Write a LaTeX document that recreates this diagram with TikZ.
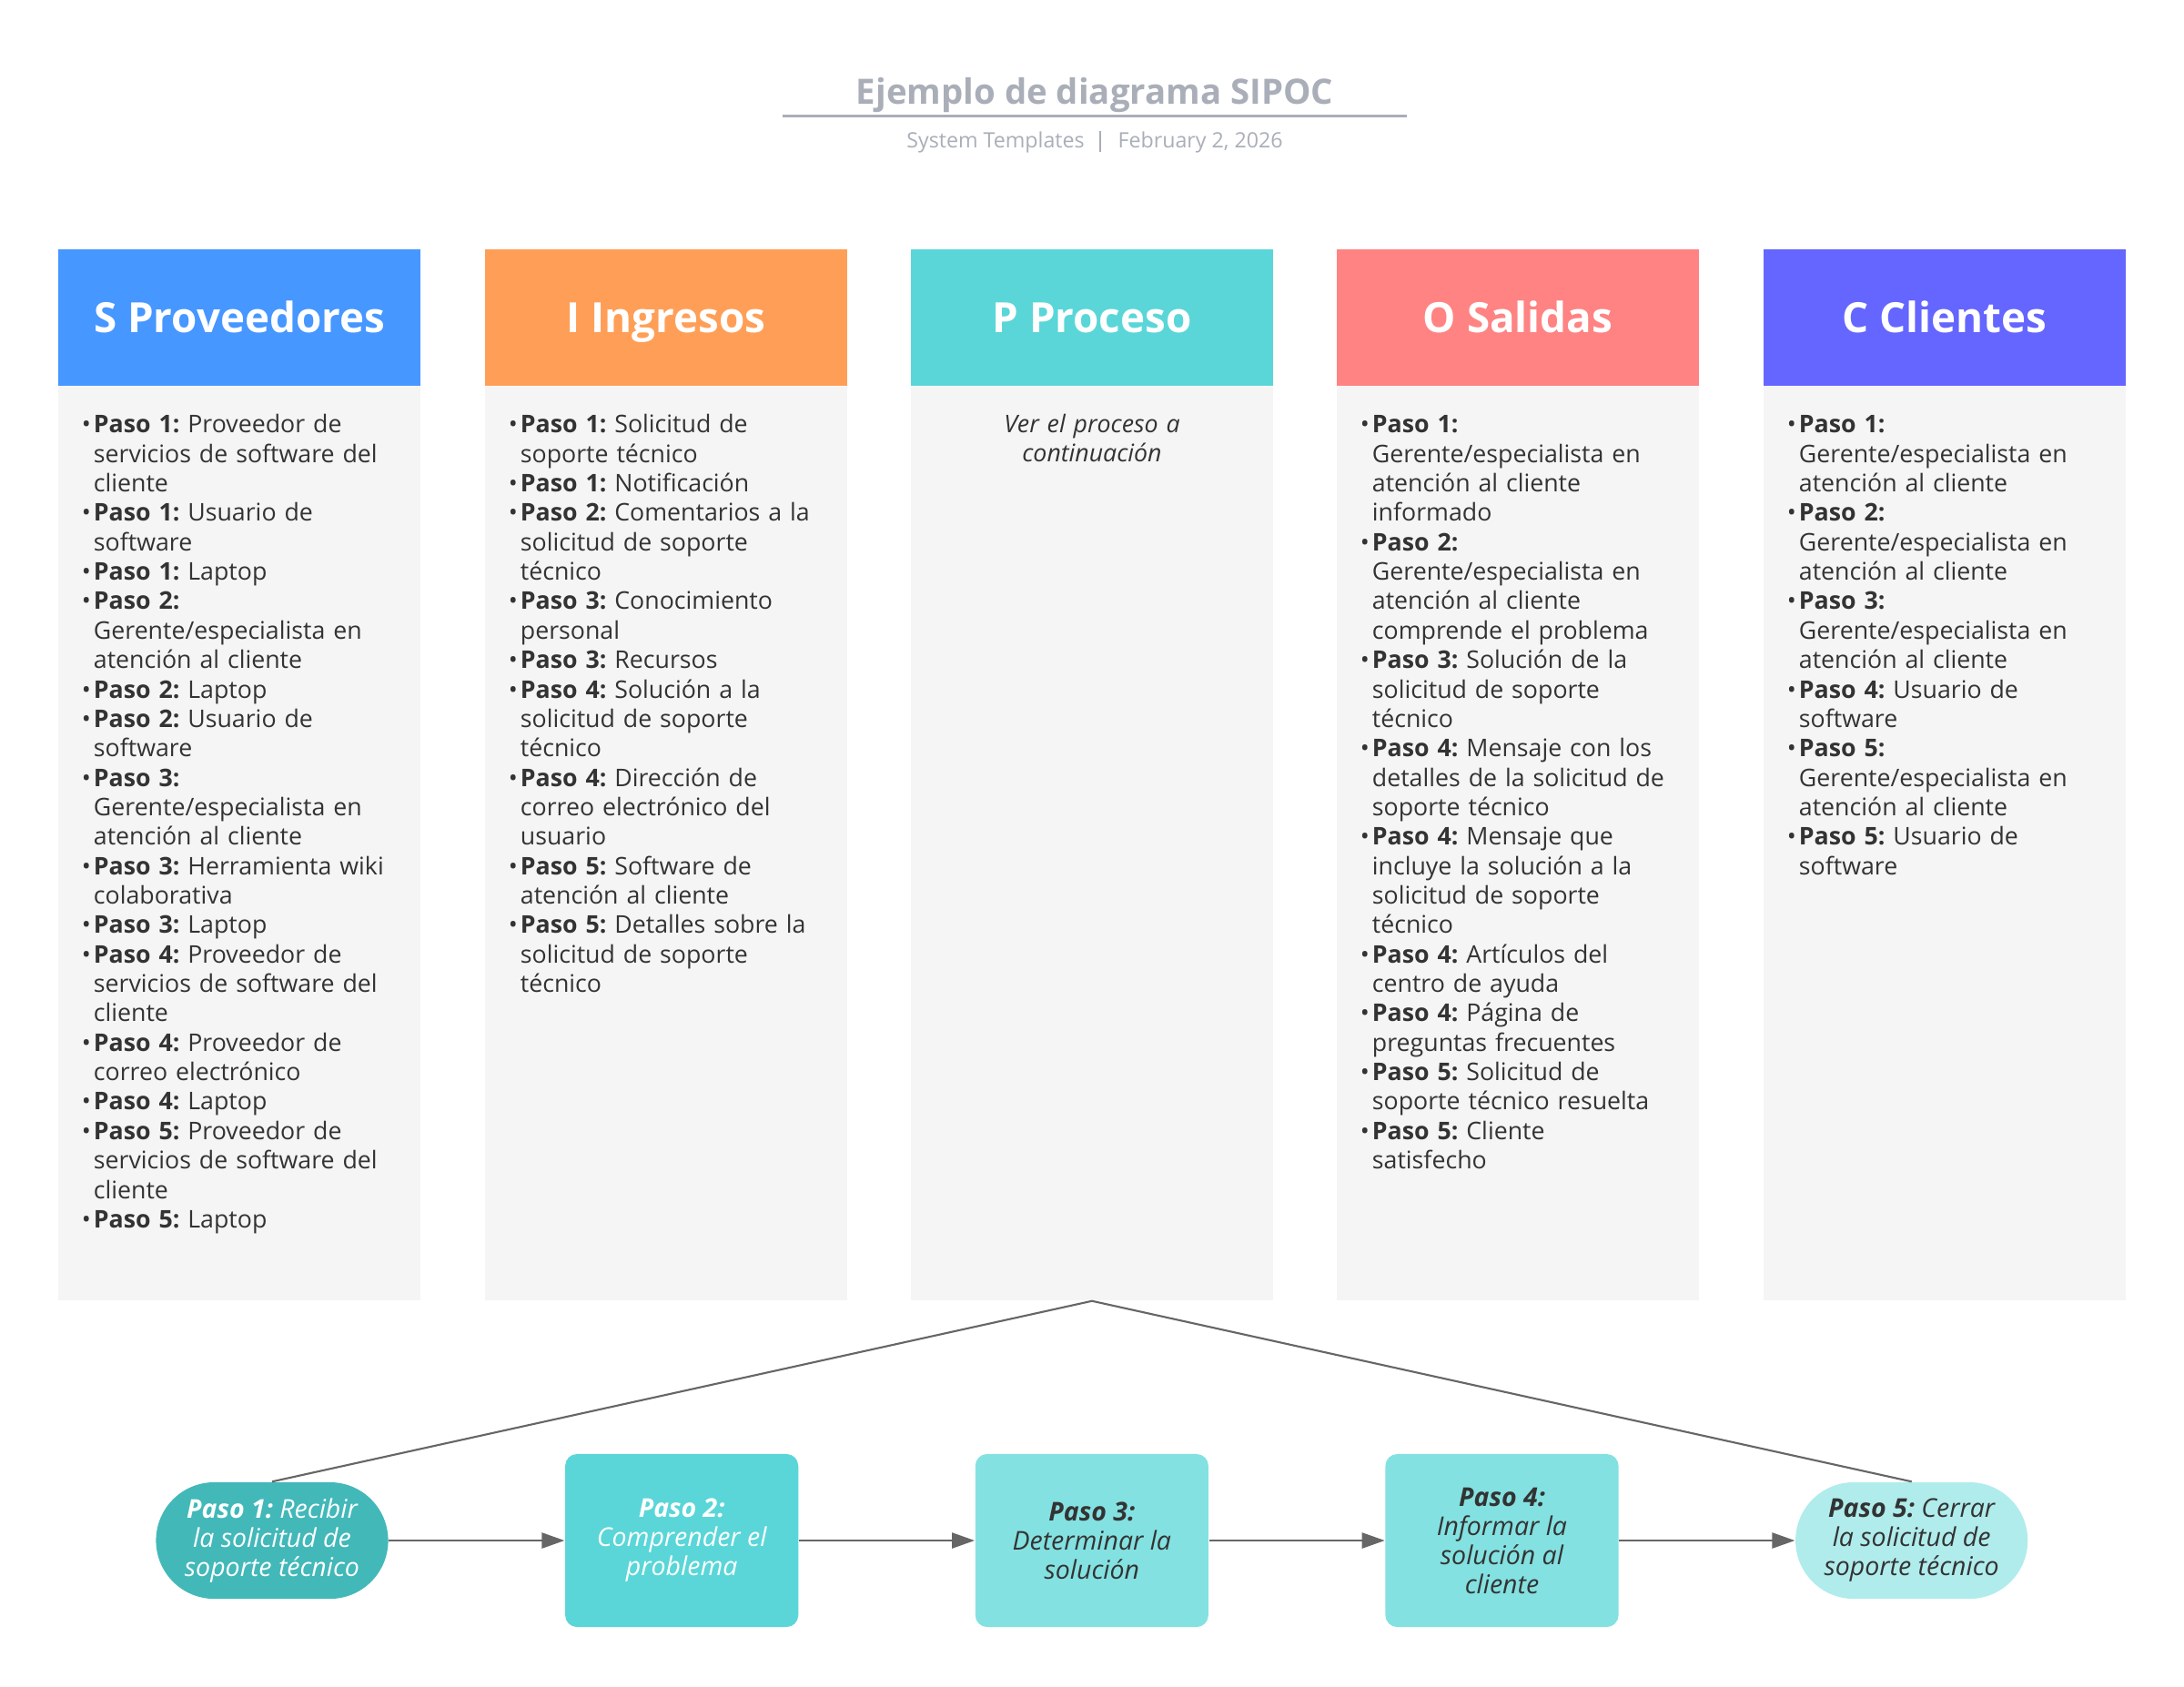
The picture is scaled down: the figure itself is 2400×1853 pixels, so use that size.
\documentclass[tikz,border=0pt]{standalone}
\usepackage{fontspec}
\setmainfont{Open Sans}
\usetikzlibrary{arrows.meta, positioning}

\definecolor{sipocS}{HTML}{4697FF}
\definecolor{sipocI}{HTML}{FF9F57}
\definecolor{sipocP}{HTML}{5AD6D8}
\definecolor{sipocO}{HTML}{FF8383}
\definecolor{sipocC}{HTML}{6466FF}
\definecolor{bodygray}{HTML}{F5F5F5}
\definecolor{inkgray}{HTML}{333333}
\definecolor{titlegray}{HTML}{A9AEB8}
\definecolor{linegray}{HTML}{666666}
\definecolor{stepA}{HTML}{42B8B9}
\definecolor{stepB}{HTML}{5AD6D8}
\definecolor{stepC}{HTML}{84E1E1}
\definecolor{stepD}{HTML}{B0ECEC}

% one bullet of a column list, with hanging indent
\newcommand{\paso}[2]{\par\noindent\hangindent=0.13cm\hangafter=1\strut\makebox[0.13cm][l]{\textbullet}\textbf{#1} #2}

\begin{document}
\frenchspacing
\begin{tikzpicture}[x=0.01cm, y=-0.01cm,
  hdr/.style={minimum width=3.98cm, minimum height=1.5cm, inner sep=0pt, text=white,
    font=\fontsize{13}{15}\selectfont\bfseries, text height=9.4pt, text depth=0pt},
  colbody/.style={fill=bodygray, minimum width=3.98cm, minimum height=10.03cm, inner sep=0pt},
  items/.style={text width=3.65cm, align=left, inner sep=0pt, anchor=north west, text=inkgray,
    font=\fontsize{7.6}{9.2}\selectfont},
  note/.style={text width=3.7cm, align=center, inner sep=0pt, anchor=north, text=inkgray,
    font=\fontsize{7.6}{9.2}\selectfont\itshape},
  steptext/.style={align=center, inner sep=0pt, font=\fontsize{8.1}{9.1}\selectfont\itshape},
  stepround/.style={steptext, rounded corners=0.64cm, minimum width=2.55cm, minimum height=1.28cm},
  stepbox/.style={steptext, rounded corners=0.13cm, minimum width=2.56cm, minimum height=1.9cm},
  link/.style={linegray, line width=0.6pt},
  flow/.style={linegray, line width=0.7pt, -{Triangle[length=0.25cm, width=0.17cm]}}]

\fill[white] (0,0) rectangle (2400,1853);
\useasboundingbox (0,0) rectangle (2400,1853);

% Title block
\node[anchor=base, text=titlegray, font=\fontsize{10.9}{12}\selectfont\bfseries] (title) at (1203,114) {Ejemplo de diagrama SIPOC};
\draw[titlegray, line width=0.85pt] (860,127) -- (1546,127);
\node[anchor=base, text=titlegray, font=\fontsize{6.6}{8}\selectfont] (subtitle) at (1203,162)
  {System Templates\hspace{0.16cm}\rule[-1.4pt]{0.5pt}{6.5pt}\hspace{0.19cm}February 2, 2026};

% SIPOC columns: header and grey body
\foreach \cx/\nm/\clr/\ttl in {263/S/sipocS/S Proveedores, 732/I/sipocI/I Ingresos,
    1200/P/sipocP/P Proceso, 1668/O/sipocO/O Salidas, 2137/C/sipocC/C Clientes}{
  \node[hdr, fill=\clr] (\nm) at (\cx,349) {\ttl};
  \node[colbody, below=0pt of \nm] (\nm-body) {};
}

% Proveedores
\node[items, below right=0.18cm and 0.26cm of S-body.north west] (S-list) {
  \paso{Paso 1:}{Proveedor de\newline servicios de software del\newline cliente}
  \paso{Paso 1:}{Usuario de\newline software}
  \paso{Paso 1:}{Laptop}
  \paso{Paso 2:}{\newline Gerente/especialista en\newline atención al cliente}
  \paso{Paso 2:}{Laptop}
  \paso{Paso 2:}{Usuario de\newline software}
  \paso{Paso 3:}{\newline Gerente/especialista en\newline atención al cliente}
  \paso{Paso 3:}{Herramienta wiki\newline colaborativa}
  \paso{Paso 3:}{Laptop}
  \paso{Paso 4:}{Proveedor de\newline servicios de software del\newline cliente}
  \paso{Paso 4:}{Proveedor de\newline correo electrónico}
  \paso{Paso 4:}{Laptop}
  \paso{Paso 5:}{Proveedor de\newline servicios de software del\newline cliente}
  \paso{Paso 5:}{Laptop}\par
};

% Ingresos
\node[items, below right=0.18cm and 0.26cm of I-body.north west] (I-list) {
  \paso{Paso 1:}{Solicitud de\newline soporte técnico}
  \paso{Paso 1:}{Notificación}
  \paso{Paso 2:}{Comentarios a la\newline solicitud de soporte\newline técnico}
  \paso{Paso 3:}{Conocimiento\newline personal}
  \paso{Paso 3:}{Recursos}
  \paso{Paso 4:}{Solución a la\newline solicitud de soporte\newline técnico}
  \paso{Paso 4:}{Dirección de\newline correo electrónico del\newline usuario}
  \paso{Paso 5:}{Software de\newline atención al cliente}
  \paso{Paso 5:}{Detalles sobre la\newline solicitud de soporte\newline técnico}\par
};

% Proceso
\node[note, below=0.27cm of P-body.north] (P-note) {\strut Ver el proceso a\\continuación};

% Salidas
\node[items, below right=0.18cm and 0.26cm of O-body.north west] (O-list) {
  \paso{Paso 1:}{\newline Gerente/especialista en\newline atención al cliente\newline informado}
  \paso{Paso 2:}{\newline Gerente/especialista en\newline atención al cliente\newline comprende el problema}
  \paso{Paso 3:}{Solución de la\newline solicitud de soporte\newline técnico}
  \paso{Paso 4:}{Mensaje con los\newline detalles de la solicitud de\newline soporte técnico}
  \paso{Paso 4:}{Mensaje que\newline incluye la solución a la\newline solicitud de soporte\newline técnico}
  \paso{Paso 4:}{Artículos del\newline centro de ayuda}
  \paso{Paso 4:}{Página de\newline preguntas frecuentes}
  \paso{Paso 5:}{Solicitud de\newline soporte técnico resuelta}
  \paso{Paso 5:}{Cliente\newline satisfecho}\par
};

% Clientes
\node[items, below right=0.18cm and 0.26cm of C-body.north west] (C-list) {
  \paso{Paso 1:}{\newline Gerente/especialista en\newline atención al cliente}
  \paso{Paso 2:}{\newline Gerente/especialista en\newline atención al cliente}
  \paso{Paso 3:}{\newline Gerente/especialista en\newline atención al cliente}
  \paso{Paso 4:}{Usuario de\newline software}
  \paso{Paso 5:}{\newline Gerente/especialista en\newline atención al cliente}
  \paso{Paso 5:}{Usuario de\newline software}\par
};

% Process steps
\node[stepround, fill=stepA, text=white] (step1) at (299,1693) {\textbf{Paso 1:} Recibir\\la solicitud de\\soporte técnico};
\node[stepbox, fill=stepB, text=white, right=1.93cm of step1] (step2) {\textbf{Paso 2:}\\Comprender el\\problema};
\node[stepbox, fill=stepC, text=inkgray, right=1.93cm of step2] (step3) {\textbf{Paso 3:}\\Determinar la\\solución};
\node[stepbox, fill=stepC, text=inkgray, right=1.93cm of step3] (step4) {\textbf{Paso 4:}\\Informar la\\solución al\\cliente};
\node[stepround, fill=stepD, text=inkgray, right=1.93cm of step4] (step5) {\textbf{Paso 5:} Cerrar\\la solicitud de\\soporte técnico};

% Fan out from the process column
\draw[link] (P-body.south) -- (step1.north);
\draw[link] (P-body.south) -- (step5.north);

% Flow between steps
\foreach \a/\b in {step1/step2, step2/step3, step3/step4, step4/step5}
  \draw[flow] (\a.east) -- (\b.west);

\end{tikzpicture}
\end{document}
